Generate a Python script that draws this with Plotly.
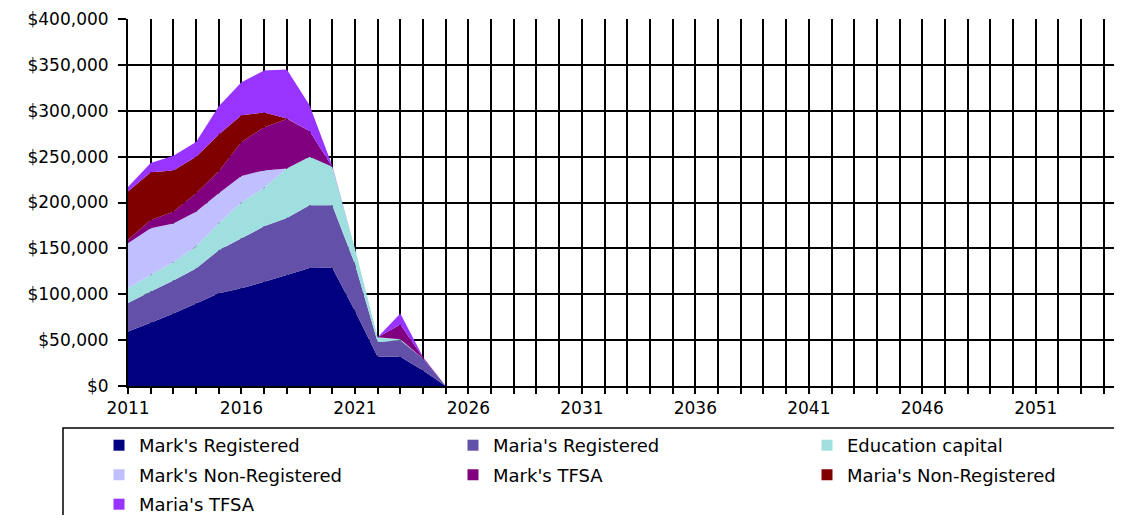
import plotly.graph_objects as go

years = [2011, 2012, 2013, 2014, 2015, 2016, 2017, 2018, 2019, 2020, 2021, 2022, 2023, 2024, 2025]

marks_registered = [59500, 69000, 79000, 90000, 101000, 106500, 113500, 121000, 128500, 129000, 82000, 32000, 32000, 17000, 0]
marias_registered = [31000, 34000, 36000, 38000, 47000, 54500, 60500, 62000, 68500, 68000, 51000, 16000, 18000, 13000, 0]
education_capital = [16000, 18000, 20000, 24000, 29000, 39000, 42000, 54000, 53000, 42000, 17000, 5000, 1000, 0, 0]
marks_non_registered = [49000, 51000, 42000, 38000, 33000, 29000, 19000, 0, 0, 0, 0, 0, 0, 0, 0]
marks_tfsa = [4000, 9000, 13000, 20000, 24000, 37000, 47000, 54000, 28000, 0, 0, 0, 16000, 1000, 0]
marias_non_registered = [52500, 52000, 45000, 40000, 40000, 29000, 16000, 500, 0, 0, 0, 0, 0, 0, 0]
marias_tfsa = [5000, 10000, 16000, 16000, 31000, 36000, 46000, 53500, 28000, 1000, 0, 0, 12000, 500, 0]

series_names = ["Mark's Registered", "Maria's Registered", "Education capital",
                "Mark's Non-Registered", "Mark's TFSA", "Maria's Non-Registered", "Maria's TFSA"]
series_values = [marks_registered, marias_registered, education_capital,
                 marks_non_registered, marks_tfsa, marias_non_registered, marias_tfsa]
series_colors = ["#000080", "#6350A8", "#A0DFDF", "#C0C0FF", "#800080", "#800000", "#9933FF"]
legend_rows = ["legend", "legend", "legend", "legend2", "legend2", "legend2", "legend3"]

x_label_years = [2011, 2016, 2021, 2026, 2031, 2036, 2041, 2046, 2051]

FONT = "DejaVu Sans"

fig = go.Figure()
for name, vals, col in zip(series_names, series_values, series_colors):
    fig.add_trace(go.Scatter(
        x=years, y=vals, name=name, stackgroup="one", mode="none",
        fillcolor=col, showlegend=False, hoverinfo="x+y+name"))

for name, col, lg in zip(series_names, series_colors, legend_rows):
    fig.add_trace(go.Scatter(
        x=[None], y=[None], name=name, mode="markers", legend=lg,
        marker=dict(symbol="square", size=11, color=col), showlegend=True))

# the page body has an 8px margin: figure coords = screen coords - 8
OFF = 8
W, H = 1122 - OFF, 523 - 2 * OFF
L = 128 - OFF
T = 19 - OFF
R = 0
B = H - (386 - OFF)
pw = W - L - R
ph = H - T - B

def px_x(p):
    return (p - OFF - L) / pw

def px_y(p):
    return (H - B - (p - OFF)) / ph

def legend_box(top):
    return dict(
        orientation="h", x=px_x(99), y=px_y(top), xanchor="left", yanchor="top",
        entrywidth=309, entrywidthmode="pixels",
        font=dict(family=FONT, size=18, color="black"),
        bgcolor="rgba(0,0,0,0)", borderwidth=0, traceorder="normal")

fig.update_layout(
    width=W, height=H,
    margin=dict(l=L, r=R, t=T, b=B, autoexpand=False),
    paper_bgcolor="white", plot_bgcolor="white",
    font=dict(family=FONT, size=17, color="black"),
    showlegend=True,
    legend=legend_box(427),
    legend2=legend_box(456.5),
    legend3=legend_box(486),
    xaxis=dict(
        range=[2011, 2054.8], tickmode="array", tickvals=x_label_years,
        ticktext=[str(v) for v in x_label_years],
        showgrid=True, gridcolor="black", gridwidth=2,
        ticks="outside", ticklen=6, tickwidth=1.5, tickcolor="black",
        showline=True, linecolor="black", linewidth=2, zeroline=False,
        minor=dict(dtick=1, tick0=2011, ticks="outside", ticklen=6, tickwidth=1.5,
                   tickcolor="black", showgrid=True, gridcolor="black", gridwidth=2),
        tickfont=dict(family=FONT, size=17, color="black"),
        ticklabelstandoff=0),
    yaxis=dict(
        range=[0, 400000], dtick=50000, tick0=0, tickprefix="$", tickformat=",.0f",
        showgrid=True, gridcolor="black", gridwidth=2,
        ticks="outside", ticklen=8, tickwidth=1.5, tickcolor="black",
        showline=True, linecolor="black", linewidth=2, zeroline=False,
        tickfont=dict(family=FONT, size=17, color="black"),
        ticklabelstandoff=6),
    shapes=[dict(type="rect", xref="paper", yref="paper",
                 x0=px_x(63), x1=px_x(1200), y0=px_y(428), y1=px_y(600),
                 line=dict(color="black", width=1.5), fillcolor="rgba(0,0,0,0)",
                 layer="above")],
)

fig.write_html("out.html")
